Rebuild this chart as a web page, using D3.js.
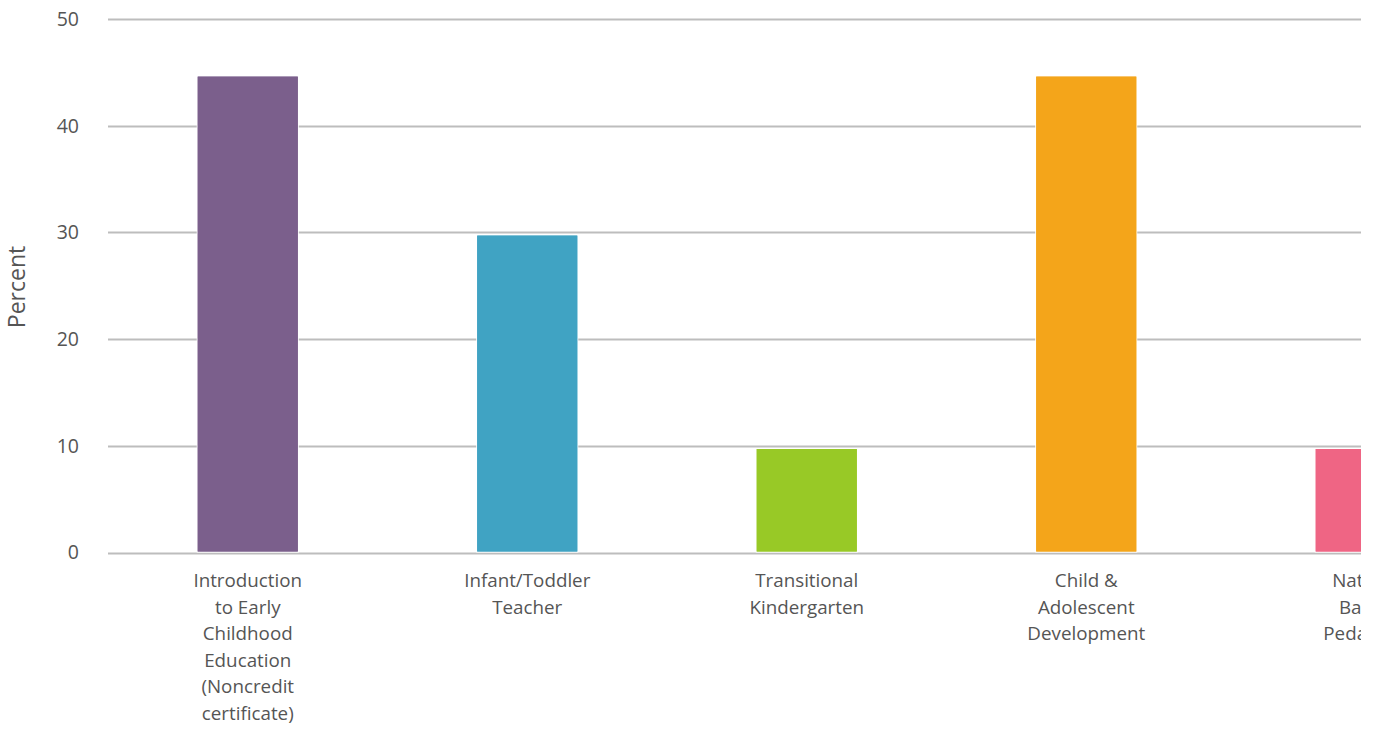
<!DOCTYPE html>
<html><head><meta charset="utf-8">
<script src="https://cdn.jsdelivr.net/npm/d3@7"></script>
<style>html,body{margin:0;padding:0;background:#fff;overflow:hidden}svg{display:block;font-family:"Open Sans",Lato,sans-serif}</style>
</head><body>
<svg id="c" width="1380" height="730"></svg>
<script>
const categories = [
  ["Introduction","to Early","Childhood","Education","(Noncredit","certificate)"],
  ["Infant/Toddler","Teacher"],
  ["Transitional","Kindergarten"],
  ["Child &","Adolescent","Development"],
  ["Nature-","Based","Pedagogy"]
];
const values = [44.6, 29.7, 9.7, 44.6, 9.7];
const colors = ["#7b5f8c", "#40a3c3", "#98c926", "#f4a51a", "#ef6584"];
const yTicks = [0, 10, 20, 30, 40, 50];
const yLabel = "Percent";

(function(){
const svg = d3.select("#c");
const mLeft = 108, mTop = 19, mBottom = 552.5, step = 279.5;
const x = d3.scaleBand().domain(d3.range(categories.length)).range([mLeft, mLeft + step * categories.length]).paddingInner(0.642).paddingOuter(0.321);
const y = d3.scaleLinear().domain([0, 50]).range([mBottom, mTop]);

svg.append("defs").append("clipPath").attr("id","clip").append("rect").attr("x",0).attr("y",0).attr("width",1361).attr("height",730);
const g = svg.append("g").attr("clip-path","url(#clip)");

g.append("g").selectAll("line").data(yTicks).join("line")
  .attr("x1", mLeft).attr("x2", mLeft + step * categories.length)
  .attr("y1", d => Math.round(y(d)) + 0.5).attr("y2", d => Math.round(y(d)) + 0.5)
  .attr("stroke", "#bdbdbd").attr("stroke-width", 2);

svg.append("g").selectAll("text").data(yTicks).join("text")
  .attr("x", 79).attr("y", d => y(d)).attr("dy", "0.35em")
  .attr("text-anchor", "end").attr("font-size", 19.5).attr("fill", "#555")
  .text(d => d);

g.append("g").selectAll("rect").data(values).join("rect")
  .attr("x", (d,i) => x(i)).attr("width", x.bandwidth())
  .attr("y", d => y(d)).attr("height", d => y(0) - y(d) - 1)
  .attr("fill", (d,i) => colors[i]).attr("stroke", "#fff").attr("stroke-width", 2)
  .attr("paint-order", "stroke");
g.append("g").selectAll("rect").data(values).join("rect")
  .attr("x", (d,i) => x(i)).attr("width", x.bandwidth())
  .attr("y", d => y(d)).attr("height", d => y(0) - y(d) - 1)
  .attr("fill", (d,i) => colors[i]);

const xl = g.append("g").selectAll("text").data(categories).join("text")
  .attr("text-anchor", "middle").attr("font-size", 18.8).attr("fill", "#555")
  .attr("transform", (d,i) => `translate(${x(i) + x.bandwidth()/2},587)`);
xl.selectAll("tspan").data(d => d).join("tspan")
  .attr("x", 0).attr("y", (d,j) => j * 26.6).text(d => d);

svg.append("text").attr("transform", "translate(25,287) rotate(-90)")
  .attr("text-anchor", "middle").attr("font-size", 23).attr("fill", "#555").text(yLabel);
})();
</script>
</body></html>
